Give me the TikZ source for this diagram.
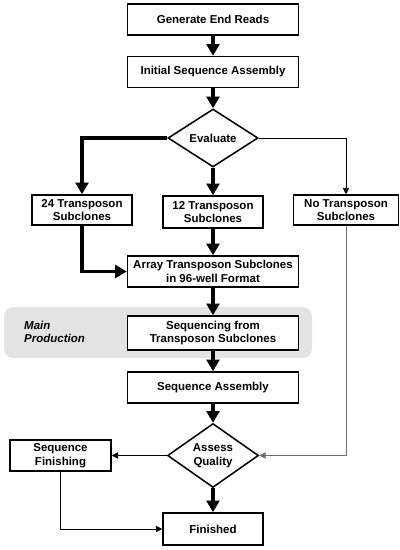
\documentclass[tikz,border=0pt]{standalone}
\usepackage{fontspec}
\setsansfont{Liberation Sans}
\usepackage{tikz}
\usetikzlibrary{positioning, shapes.geometric, arrows.meta, backgrounds}

\definecolor{bandgray}{HTML}{E3E3E3}
\definecolor{linegray}{HTML}{6E6E6E}

\begin{document}
\begin{tikzpicture}[x=0.03cm, y=-0.03cm,
  box/.style={rectangle,draw,fill=white,line width=1.3pt,align=center,inner sep=0pt,
    font=\sffamily\bfseries\fontsize{9.8}{11.5}\selectfont},
  wide box/.style={box,minimum width=171*0.03cm,minimum height=31*0.03cm},
  small box/.style={box,minimum width=100*0.03cm,minimum height=31*0.03cm},
  decide/.style={diamond,draw,fill=white,line width=1.3pt,align=center,inner sep=0pt,
    minimum width=90*0.03cm,minimum height=58*0.03cm,
    font=\sffamily\bfseries\fontsize{9.8}{11.5}\selectfont},
  heavy/.style={line width=3pt,-{Triangle[length=10pt,width=11pt]}},
  light/.style={line width=0.8pt,-{Triangle[length=5.5pt,width=5.5pt]}}]

\useasboundingbox (0,0) rectangle (400,550);

% main production band
\fill[bandgray, rounded corners=8pt] (4,307) rectangle (312,358);
\node[font=\sffamily\bfseries\itshape\fontsize{9.8}{11.5}\selectfont,
  align=left, anchor=west, inner sep=0pt] (band) at (24,332) {Main\\Production};

\node[wide box] (gen) at (213,19.5) {Generate End Reads};
\node[wide box] (init) at (213,72) {Initial Sequence Assembly};
\node[decide] (eval) at (213,138) {Evaluate};
\node[small box, minimum height=30*0.03cm] (t24) at (82,210) {24 Transposon\\Subclones};
\node[small box, minimum height=32*0.03cm] (t12) at (213,212) {12 Transposon\\Subclones};
\node[small box, minimum width=105*0.03cm, minimum height=30*0.03cm] (tno) at (346,210) {No Transposon\\Subclones};
\node[wide box] (array) at (213,271.5) {Array Transposon Subclones\\in 96-well Format};
\node[wide box, minimum height=34*0.03cm] (seqt) at (213,333) {Sequencing from\\Transposon Subclones};
\node[wide box] (asm) at (213,387.5) {Sequence Assembly};
\node[decide, minimum width=91*0.03cm, minimum height=59*0.03cm] (aq) at (213,455.5) {Assess\\Quality};
\node[small box, minimum width=101*0.03cm] (fin) at (60.5,455.5) {Sequence\\Finishing};
\node[small box, minimum height=32*0.03cm] (done) at (213,529) {Finished};

\draw[heavy] (gen) -- (init);
\draw[heavy] (init) -- (eval);
\draw[heavy] (eval.west) -| (t24.north);
\draw[heavy] (eval) -- (t12);
\draw[light] (eval.east) -| (tno.north);
\draw[heavy] (t24.south) |- (array.west);
\draw[heavy] (t12) -- (array);
\draw[heavy] (array) -- (seqt);
\draw[heavy] (seqt) -- (asm);
\draw[heavy] (asm) -- (aq);
\draw[light, linegray] (tno.south) |- (aq.east);
\draw[light] (aq.west) -- (fin.east);
\draw[light] (fin.south) |- (done.west);
\draw[heavy] (aq) -- (done);

\end{tikzpicture}
\end{document}
